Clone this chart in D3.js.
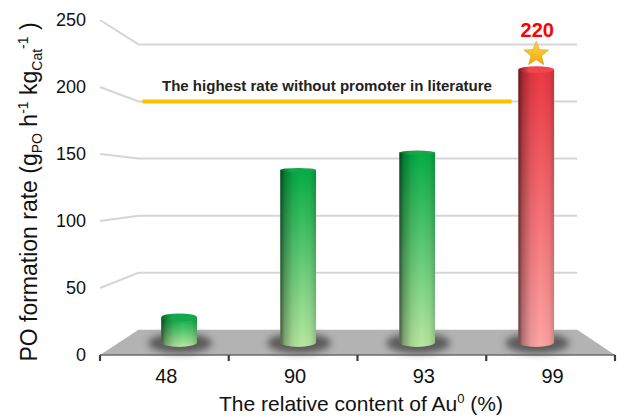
<!DOCTYPE html>
<html>
<head>
<meta charset="utf-8">
<script src="https://cdn.jsdelivr.net/npm/d3@7"></script>
<style>
  html, body { margin: 0; padding: 0; background: #fff; }
  svg { display: block; font-family: "Liberation Sans", Arial, sans-serif; }
</style>
</head>
<body>
<svg id="chart" width="617" height="418"></svg>
<script>
// Au0 content categories and PO formation rates
const categories = ["48", "90", "93", "99"];
const rates = [20, 139, 153, 220];
const yTicks = [0, 50, 100, 150, 200, 250];
const literatureRate = 200;
const literatureLabel = "The highest rate without promoter in literature";

const svg = d3.select("#chart");
const defs = svg.append("defs");

// Front-plane scales
const x = d3.scaleBand().domain(categories).range([100, 615]).paddingInner(0).paddingOuter(0);
const y = d3.scaleLinear().domain([0, 250]).range([355, 20]);

// Simple perspective: depth 0 = front plane, 1 = back wall
const vp = [360, 185];
const kDepth = 0.1737;
function project(px, py, depth) {
  const s = 1 / (1 + kDepth * depth);
  return [vp[0] + (px - vp[0]) * s, vp[1] + (py - vp[1]) * s, s];
}
const barDepth = 0.47;

// Filters
const blur = defs.append("filter").attr("id", "soft").attr("x", "-50%").attr("y", "-50%").attr("width", "200%").attr("height", "200%");
blur.append("feGaussianBlur").attr("stdDeviation", 3.5);
const glow = defs.append("filter").attr("id", "glow").attr("x", "-10%").attr("y", "-300%").attr("width", "120%").attr("height", "700%");
glow.append("feGaussianBlur").attr("stdDeviation", 2.5);

// Gridlines: slanted side-wall segment then flat back-wall segment
const x0 = x.range()[0], x1 = x.range()[1];
yTicks.filter(t => t > 0).forEach(t => {
  const a = project(x0, y(t), 0), b = project(x0, y(t), 1), c = project(x1, y(t), 1);
  svg.append("polyline")
    .attr("points", [a, b, c].map(p => p[0] + "," + p[1]).join(" "))
    .attr("fill", "none").attr("stroke", "#d6d6d6").attr("stroke-width", 2);
});

// Floor
const floorPts = [project(x0, y(0), 0), project(x1, y(0), 0), project(x1, y(0), 1), project(x0, y(0), 1)];
svg.append("polygon")
  .attr("points", floorPts.map(p => p[0] + "," + p[1]).join(" "))
  .attr("fill", "#b3b3b3");
svg.append("line")
  .attr("x1", x0).attr("x2", x1).attr("y1", y(0)).attr("y2", y(0))
  .attr("stroke", "#6a6a6a").attr("stroke-width", 1.6);
// Category ticks on the front edge
d3.range(categories.length + 1).forEach(i => {
  const tx = x0 + i * x.step();
  svg.append("line").attr("x1", tx).attr("x2", tx).attr("y1", y(0)).attr("y2", y(0) + 6)
    .attr("stroke", "#3c3c3c").attr("stroke-width", 2.2);
});

// Literature reference line on the back wall
{
  const la = project(x0, y(literatureRate), 1);
  const lb = project(x0 + x.step() * 3.4, y(literatureRate), 1);
  const xs = la[0] + 4;
  svg.append("line").attr("x1", xs - 2).attr("x2", lb[0] + 2).attr("y1", la[1]).attr("y2", la[1])
    .attr("stroke", "#ffee70").attr("stroke-width", 10).attr("opacity", 0.8).attr("filter", "url(#glow)");
  svg.append("line").attr("x1", xs).attr("x2", lb[0]).attr("y1", la[1]).attr("y2", la[1])
    .attr("stroke", "#ffc000").attr("stroke-width", 4);
  svg.append("text")
    .attr("x", (xs + lb[0]) / 2).attr("y", la[1] - 11)
    .attr("text-anchor", "middle").attr("font-weight", "bold").attr("font-size", 14)
    .attr("fill", "#222").attr("textLength", 330).attr("lengthAdjust", "spacingAndGlyphs")
    .text(literatureLabel);
}

// Colour sets for the cylinders
const greenSet = { top: "#06ad46", bottom: "#b9e8a2", cap: "#14a84a", edge: "#0a6a2a" };
const redSet = { top: "#ec3843", bottom: "#ffa5a5", cap: "#f2464f", edge: "#841a20" };

// Horizontal cylinder shading
const shade = defs.append("linearGradient").attr("id", "shade").attr("x1", 0).attr("x2", 1).attr("y1", 0).attr("y2", 0);
[[0, 0.6], [0.12, 0.3], [0.35, 0.08], [0.62, 0.0], [0.85, 0.05], [1, 0.18]].forEach(([o, a]) =>
  shade.append("stop").attr("offset", o).attr("stop-color", "#000").attr("stop-opacity", a));

const barHalf = x.bandwidth() * 0.15;
const ryFactor = 0.03;

categories.forEach((cat, i) => {
  const colors = i === categories.length - 1 ? redSet : greenSet;
  const cxFront = x(cat) + x.bandwidth() / 2;
  const base = project(cxFront, y(0), barDepth);
  const top = project(cxFront, y(rates[i]), barDepth);
  const half = barHalf * base[2];
  const left = base[0] - half, right = base[0] + half;
  const ryB = Math.max(2, Math.abs(base[1] - vp[1]) * ryFactor);
  const ryT = Math.max(2, Math.abs(top[1] - vp[1]) * ryFactor);

  const g = svg.append("g");
  // soft shadow on the floor
  g.append("ellipse").attr("cx", base[0] + 1).attr("cy", base[1] + 1).attr("rx", half + 14).attr("ry", 10)
    .attr("fill", "#444").attr("opacity", 0.8).attr("filter", "url(#soft)");

  const gid = "body" + i;
  const vg = defs.append("linearGradient").attr("id", gid).attr("x1", 0).attr("x2", 0).attr("y1", 0).attr("y2", 1);
  vg.append("stop").attr("offset", 0).attr("stop-color", colors.top);
  vg.append("stop").attr("offset", 1).attr("stop-color", colors.bottom);

  const body = `M${left},${top[1]} L${left},${base[1]} A${half},${ryB} 0 0 0 ${right},${base[1]} L${right},${top[1]} Z`;
  g.append("path").attr("d", body).attr("fill", `url(#${gid})`);
  g.append("path").attr("d", body).attr("fill", "url(#shade)");

  const cid = "cap" + i;
  const cg = defs.append("linearGradient").attr("id", cid).attr("x1", 0).attr("x2", 1).attr("y1", 0).attr("y2", 0);
  cg.append("stop").attr("offset", 0).attr("stop-color", colors.edge);
  cg.append("stop").attr("offset", 0.3).attr("stop-color", colors.cap);
  cg.append("stop").attr("offset", 1).attr("stop-color", colors.cap);
  g.append("ellipse").attr("cx", base[0]).attr("cy", top[1]).attr("rx", half).attr("ry", ryT)
    .attr("fill", `url(#${cid})`);

  if (i === categories.length - 1) {
    // star and value label above the highlighted bar
    const starCy = top[1] - 17;
    const pts = d3.range(10).map(k => {
      const r = k % 2 === 0 ? 13 : 5.6;
      const ang = -Math.PI / 2 + k * Math.PI / 5;
      return [base[0] + r * Math.cos(ang), starCy + 1.5 + r * Math.sin(ang)];
    });
    const sg = defs.append("linearGradient").attr("id", "starFill").attr("x1", 0).attr("x2", 0).attr("y1", 0).attr("y2", 1);
    sg.append("stop").attr("offset", 0).attr("stop-color", "#ffd84a");
    sg.append("stop").attr("offset", 1).attr("stop-color", "#f0a800");
    g.append("polygon").attr("points", pts.map(p => p.join(",")).join(" "))
      .attr("fill", "url(#starFill)").attr("stroke", "#c9a23a").attr("stroke-width", 0.6);
    g.append("text").attr("x", base[0] + 1).attr("y", starCy - 16)
      .attr("text-anchor", "middle").attr("font-weight", "bold").attr("font-size", 20)
      .attr("fill", "#ff0000").text(String(rates[i]));
  }
});

// Y axis tick labels
svg.append("g").selectAll("text").data(yTicks).join("text")
  .attr("x", 86).attr("y", d => y(d)).attr("dy", "0.35em")
  .attr("text-anchor", "end").attr("font-size", 18).attr("fill", "#111")
  .text(d => d);

// X axis tick labels
svg.append("g").selectAll("text").data(categories).join("text")
  .attr("x", d => x(d) + x.bandwidth() / 2 + 2).attr("y", 383)
  .attr("text-anchor", "middle").attr("font-size", 20).attr("fill", "#111")
  .text(d => d);

// X axis title
const xt = svg.append("text").attr("x", 361).attr("y", 411).attr("text-anchor", "middle")
  .attr("font-size", 21).attr("fill", "#111");
xt.append("tspan").text("The relative content of Au");
xt.append("tspan").attr("font-size", 13).attr("dy", -8).text("0");
xt.append("tspan").attr("dy", 8).text(" (%)");

// Y axis title
const yt = svg.append("text").attr("transform", "translate(37,192) rotate(-90)")
  .attr("text-anchor", "middle").attr("font-size", 23).attr("fill", "#111");
yt.append("tspan").text("PO formation rate (g");
yt.append("tspan").attr("font-size", 14).attr("dy", 5).text("PO");
yt.append("tspan").attr("dy", -5).text(" h");
yt.append("tspan").attr("font-size", 14).attr("dy", -9).text("-1");
yt.append("tspan").attr("dy", 9).text(" kg");
yt.append("tspan").attr("font-size", 14).attr("dy", 5).text("Cat");
yt.append("tspan").attr("font-size", 14).attr("dy", -14).text("-1");
yt.append("tspan").attr("dy", 9).text(" )");
</script>
</body>
</html>
